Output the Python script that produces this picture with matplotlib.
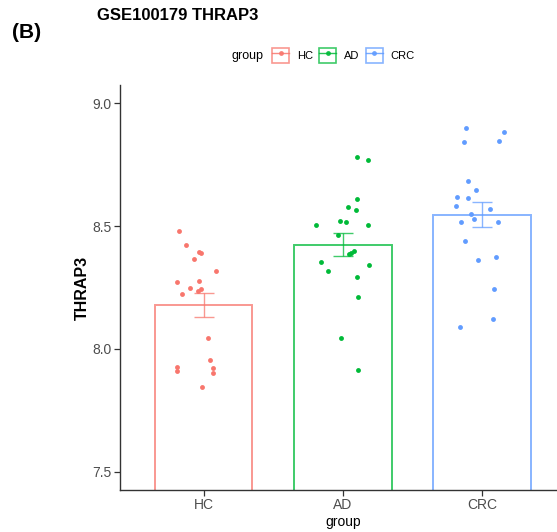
import numpy as np
import matplotlib
matplotlib.use("Agg")
import matplotlib.pyplot as plt
from matplotlib.patches import Patch
from matplotlib.lines import Line2D
from matplotlib.legend_handler import HandlerTuple

plt.rcParams['font.family'] = ['Liberation Sans', 'DejaVu Sans']

categories = ["HC", "AD", "CRC"]
colors = ["#F8766D", "#00BA38", "#619CFF"]

hc_values = [8.480, 8.424, 8.396, 8.392, 8.366, 8.318, 8.271, 8.278, 8.246, 8.244,
             8.234, 8.224, 8.046, 7.955, 7.928, 7.909, 7.921, 7.903, 7.845]
hc_jitter = [-0.176, -0.128, -0.030, -0.018, -0.068, 0.090, -0.192, -0.030, -0.097, -0.018,
             -0.037, -0.154, 0.034, 0.047, -0.188, -0.188, 0.066, 0.070, -0.009]

ad_values = [8.780, 8.771, 8.612, 8.580, 8.567, 8.506, 8.520, 8.516, 8.506, 8.465,
             8.399, 8.391, 8.385, 8.355, 8.317, 8.340, 8.294, 8.213, 8.044, 7.914]
ad_jitter = [0.100, 0.184, 0.103, 0.036, 0.095, -0.194, -0.024, 0.024, 0.179, -0.032,
             0.081, 0.059, 0.047, -0.158, -0.108, 0.189, 0.103, 0.108, -0.014, 0.110]

crc_values = [8.898, 8.882, 8.841, 8.848, 8.683, 8.646, 8.619, 8.615, 8.582, 8.571,
              8.551, 8.528, 8.516, 8.518, 8.440, 8.363, 8.373, 8.245, 8.122, 8.089]
crc_jitter = [-0.113, 0.158, -0.127, 0.122, -0.098, -0.046, -0.179, -0.100, -0.189, 0.059,
              -0.077, -0.055, -0.151, 0.115, -0.125, -0.032, 0.097, 0.088, 0.076, -0.156]

yticks = [7.5, 8.0, 8.5, 9.0]
ytick_labels = ["7.5", "8.0", "8.5", "9.0"]

groups = [hc_values, ad_values, crc_values]
jitters = [hc_jitter, ad_jitter, crc_jitter]

W, H = 557, 532
fig = plt.figure(figsize=(W / 100, H / 100), dpi=100)
ax = fig.add_axes([120 / W, 1 - 490 / H, (565.7 - 120) / W, (490 - 85) / H])

pos = np.arange(1, len(categories) + 1)
for i, (vals, jit, col) in enumerate(zip(groups, jitters, colors)):
    v = np.array(vals)
    m = v.mean()
    se = v.std(ddof=1) / np.sqrt(len(v))
    ax.bar(pos[i], m, width=0.7, facecolor="white", edgecolor=col, linewidth=1.4,
           alpha=0.75, zorder=1)
    ax.errorbar(pos[i], m, yerr=se, color=col, capsize=7, capthick=1.0, elinewidth=1.0,
                alpha=0.75, zorder=2)
    ax.plot(pos[i] + np.array(jit), v, 'o', color=col, markersize=3.5,
            markeredgewidth=0, zorder=3)

ax.set_xlim(0.4, 3.6)
ax.set_ylim(7.425, 9.075)
ax.set_xticks(pos)
ax.set_xticklabels(categories)
ax.set_yticks(yticks)
ax.set_yticklabels(ytick_labels)
for s in ["top", "right"]:
    ax.spines[s].set_visible(False)
for s in ["left", "bottom"]:
    ax.spines[s].set_color("#333333")
    ax.spines[s].set_linewidth(1.0)
ax.tick_params(axis="both", length=4, width=0.9, color="#333333",
               labelsize=10, labelcolor="#4D4D4D", pad=2)
ax.set_xlabel("group", fontsize=10, color="black", labelpad=2)
ax.set_ylabel("THRAP3", fontsize=11.5, fontweight="bold", color="black", labelpad=1.5)

fig.text(97 / W, 1 - 16 / H, "GSE100179 THRAP3", fontsize=12, fontweight="bold",
         ha="left", va="center")
fig.text(12 / W, 1 - 33 / H, "(B)", fontsize=15, fontweight="bold",
         ha="left", va="center")

# legend
fig.text(263 / W, 1 - 56 / H, "group", fontsize=9, ha="right", va="center")
handles = []
for col in colors:
    p = Patch(facecolor="white", edgecolor=col, linewidth=1.2, alpha=0.75)
    l = Line2D([0], [0], color=col, marker='o', markersize=2.5, linewidth=1.0, alpha=0.85)
    handles.append((p, l))
leg = fig.legend(handles, categories, loc="center left", bbox_to_anchor=(272 / W, 1 - 55 / H),
                 ncol=3, frameon=False, fontsize=8,
                 handler_map={tuple: HandlerTuple(ndivide=1, pad=0)},
                 handlelength=1.55, handleheight=1.7, handletextpad=0.7, columnspacing=0.55,
                 borderpad=0, borderaxespad=0)

fig.savefig("out.png", dpi=100)
